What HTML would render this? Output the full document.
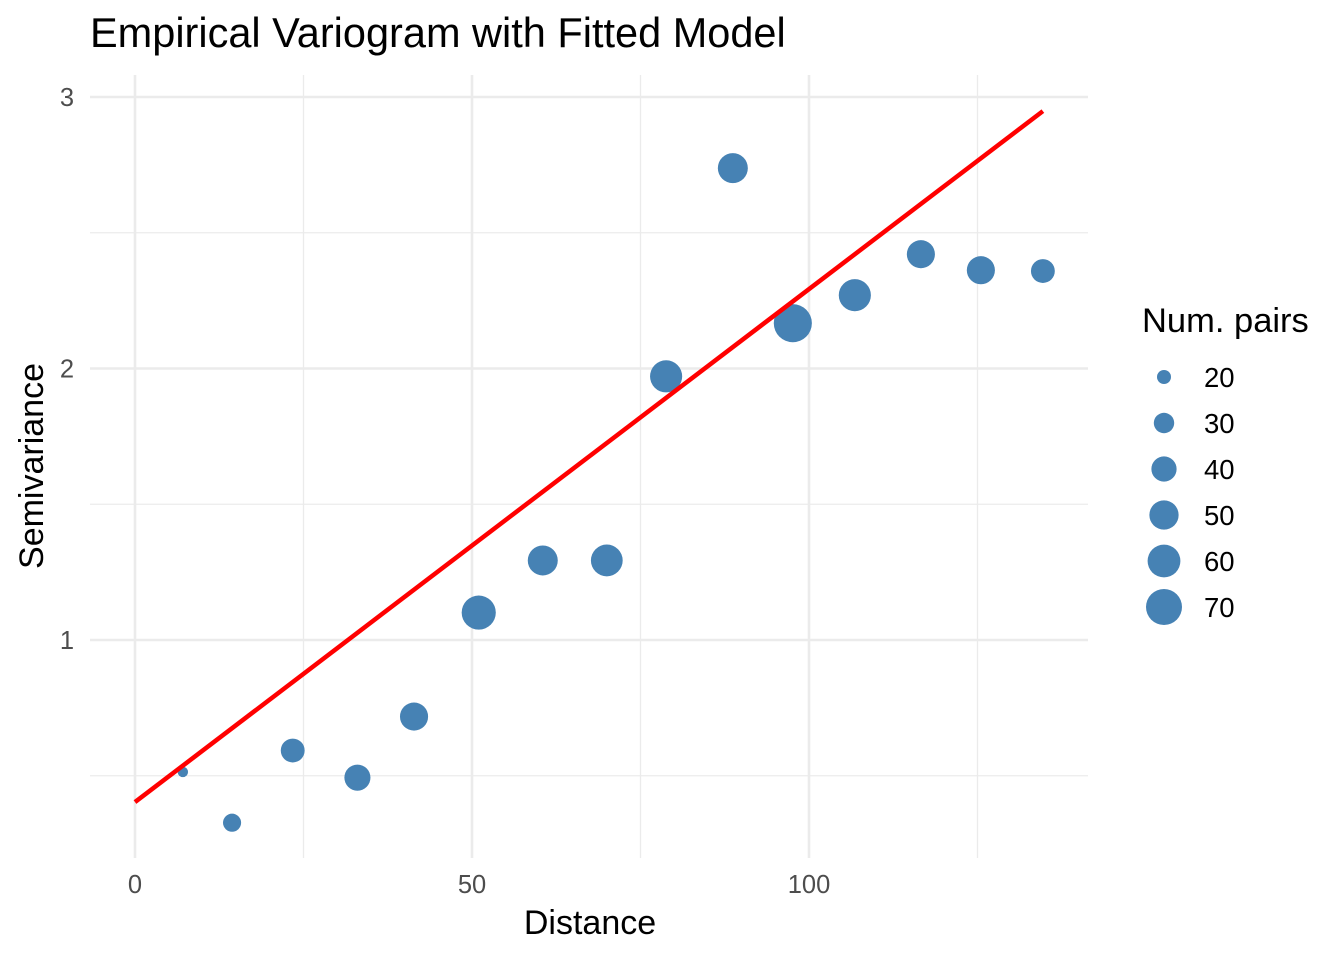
<!DOCTYPE html>
<html><head><meta charset="utf-8"><style>
body{margin:0;background:#fff;}
svg{font-family:"Liberation Sans",sans-serif;}
</style></head><body>
<svg id="chart" width="1344" height="960">
<text x="90" y="47" font-size="41.5" fill="#000">Empirical Variogram with Fitted Model</text>
<g id="grid"></g><g id="marks"></g><g id="axes"></g>
<text x="590" y="934" font-size="34" text-anchor="middle">Distance</text>
<text transform="translate(43,466) rotate(-90)" font-size="34" text-anchor="middle">Semivariance</text>
<text x="1142" y="332" font-size="34.5">Num. pairs</text>
<g id="legend"></g>
</svg>
<script>
const distances=[7.1,14.4,23.4,33.0,41.4,51.0,60.5,70.0,78.8,88.7,97.6,106.8,116.6,125.5,134.7];
const gammas=[0.514,0.327,0.593,0.493,0.718,1.101,1.293,1.293,1.971,2.738,2.167,2.270,2.421,2.362,2.359];
const npairs=[16,26,37,42,47,64,52,57,58,52,77,58,47,47,37];
const fitX=[0,134.7];
const fitY=[0.403,2.948];
const xTicks=[0,50,100];
const yTicks=[1,2,3];
const legendBreaks=[20,30,40,50,60,70];
const NS="http://www.w3.org/2000/svg";
const X=v=>135+v*6.74;
const Y=v=>640-(v-1)*271.5;
const R=n=>Math.sqrt(Math.max(4,-61+5.5*n));
function mk(p,t,a){const e=document.createElementNS(NS,t);for(const k in a)e.setAttribute(k,a[k]);document.getElementById(p).appendChild(e);return e;}
[25,75,125].forEach(v=>{const l=mk('grid','line',{x1:X(v),x2:X(v),y1:75,y2:858,stroke:'#ebebeb','stroke-width':1.3});

});
[0.5,1.5,2.5].forEach(v=>{const l=mk('grid','line',{x1:90,x2:1088,y1:Y(v),y2:Y(v),stroke:'#ebebeb','stroke-width':1.3});

});
xTicks.forEach(v=>{const l=mk('grid','line',{x1:X(v),x2:X(v),y1:75,y2:858,stroke:'#ebebeb','stroke-width':2.6});


const t=mk('axes','text',{x:X(v),y:893,'font-size':25.5,fill:'#4d4d4d','text-anchor':'middle'});t.textContent=v;

});
yTicks.forEach(v=>{const l=mk('grid','line',{x1:90,x2:1088,y1:Y(v),y2:Y(v),stroke:'#ebebeb','stroke-width':2.6});


const t=mk('axes','text',{x:74,y:Y(v)+9,'font-size':25.5,fill:'#4d4d4d','text-anchor':'end'});t.textContent=v;

});
distances.forEach((d,i)=>{const c=mk('marks','circle',{cx:X(d),cy:Y(gammas[i]),r:R(npairs[i]),fill:'#4682b4'});

});
const fl=mk('marks','line',{x1:X(fitX[0]),y1:Y(fitY[0]),x2:X(fitX[1]),y2:Y(fitY[1]),stroke:'#ff0000','stroke-width':4.5});


legendBreaks.forEach((n,i)=>{const y=377+i*46;
const c=mk('legend','circle',{cx:1164,cy:y,r:R(n),fill:'#4682b4'});


const t=mk('legend','text',{x:1204,y:y+10,'font-size':27.5,fill:'#000'});t.textContent=n;

});
</script>
</body></html>
